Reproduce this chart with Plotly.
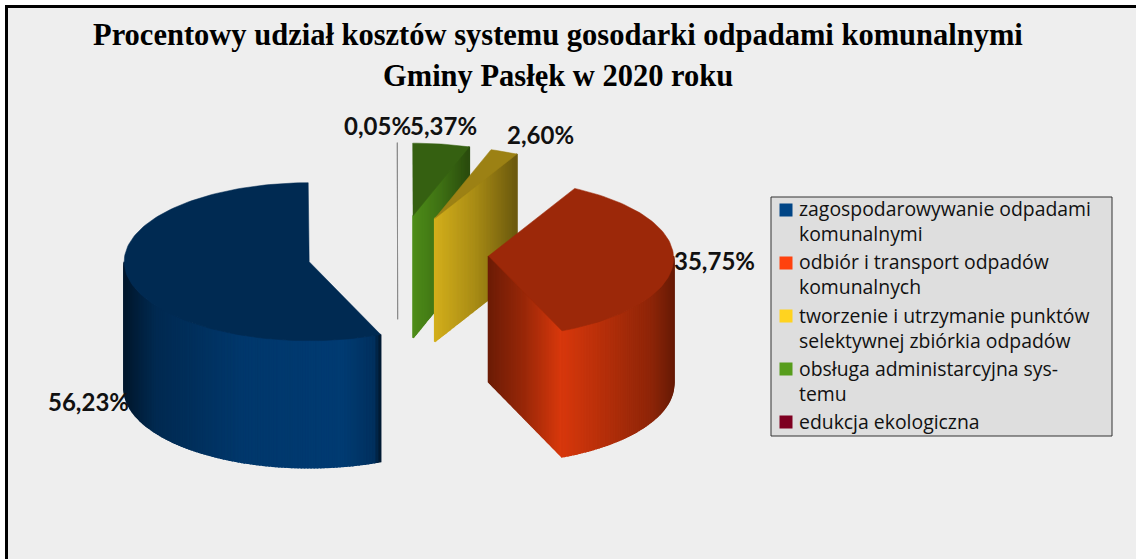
import math
import plotly.graph_objects as go

# ---- data ----
categories = [
    "zagospodarowywanie odpadami<br>komunalnymi",
    "odbiór i transport odpadów<br>komunalnych",
    "tworzenie i utrzymanie punktów<br>selektywnej zbiórkia odpadów",
    "obsługa administarcyjna sys-<br>temu",
    "edukcja ekologiczna",
]
values = [56.23, 35.75, 2.60, 5.37, 0.05]
colors = ["#004586", "#ff420e", "#ffd320", "#579d1c", "#7e0021"]
title_lines = ["Procentowy udział kosztów systemu gosodarki odpadami komunalnymi",
               "Gminy Pasłęk w 2020 roku"]

# ---- projection of the pie ----
W, H = 1136, 559
CX, CY = 398, 254        # pie centre on screen
RX, RY = 185, 79         # ellipse radii
EXPLODE = 0.49
START = -0.3             # degrees clockwise from 12 o'clock; slices run anticlockwise
depths = [127, 126, 123, 122, 104]          # apparent extrusion per slice
perspective = [0.0, 0.03, 0.08, 0.08, 0.08]  # foreshortening of the far rim per slice

label_pos = [(88, 401), (714, 260), (540, 134), (443, 125), (377, 125)]
key_pos = [(786, 210), (786, 263), (786, 316), (786, 369), (786, 422)]
# wall shading stops (fraction left-to-right on screen, brightness)
wall_stops = [
    [(0, .34), (.12, .6), (.45, .8), (.85, .85), (.97, .7), (1, .3)],
    [(0, .84), (.4, .7), (.8, .55), (1, .4)],
    None, None, None,
]
face_stops = [
    None,
    [(0, .42), (.5, .6), (1, .85)],
    [(0, .83), (.5, .66), (1, .42)],
    [(0, .9), (.5, .72), (1, .48)],
    None,
]
TOP_SHADE = 0.61


def rgb(hexcol, k):
    r, g, b = (int(hexcol[i:i + 2], 16) for i in (1, 3, 5))
    return f"rgb({round(r * k)},{round(g * k)},{round(b * k)})"


def shade(stops, t):
    for (t0, v0), (t1, v1) in zip(stops, stops[1:]):
        if t <= t1:
            return v0 + (v1 - v0) * (t - t0) / (t1 - t0)
    return stops[-1][1]


def pt(cx, cy, a, p=0.0):
    rad = math.radians(a)
    s = 1 - p * math.cos(rad)
    return cx + s * RX * math.sin(rad), cy - s * RY * math.cos(rad)


fig = go.Figure()


def poly(pts, color, line=None, width=0.5):
    xs = [q[0] for q in pts] + [pts[0][0]]
    ys = [q[1] for q in pts] + [pts[0][1]]
    fig.add_trace(go.Scatter(x=xs, y=ys, mode="lines", fill="toself", fillcolor=color,
                             line=dict(color=line or color, width=width),
                             hoverinfo="skip", showlegend=False))


# slice angles, derived from the values
total = sum(values)
spans = []
a = START
for v in values:
    b = a - v / total * 360
    spans.append((b, a))
    a = b
spans = [(s + 360, e + 360) if s < 0 else (s, e) for s, e in spans]

order = [4, 3, 2, 0, 1]    # painter's order, back to front
for i in order:
    lo, hi = spans[i]
    col = colors[i]
    p = perspective[i]
    depth = depths[i]
    mid = math.radians((lo + hi) / 2)
    cx = CX + EXPLODE * RX * math.sin(mid)
    cy = CY - EXPLODE * RY * math.cos(mid)

    if i == 4:     # hair-thin slice
        p0 = pt(cx, cy, hi, p)
        poly([p0, (cx, cy), (cx, cy + depth)], "#8a8a8a", "#8a8a8a", 1)
        continue

    # flat cut face at the clockwise end, when it faces the viewer
    if math.cos(math.radians(hi + 90)) < -0.02:
        rim = pt(cx, cy, hi, p)
        n = 60
        for k in range(n):
            t0, t1 = k / n, (k + 1) / n
            x0, y0 = cx + (rim[0] - cx) * t0, cy + (rim[1] - cy) * t0
            x1, y1 = cx + (rim[0] - cx) * t1, cy + (rim[1] - cy) * t1
            c = rgb(col, shade(face_stops[i], (t0 + t1) / 2))
            poly([(x0, y0), (x1, y1), (x1, y1 + depth), (x0, y0 + depth)], c, width=1.6)

    # curved outer wall, front half only
    w0, w1 = max(lo, 90), min(hi, 270)
    if w1 > w0:
        n = max(8, int((w1 - w0) / 1.0))
        xs_all = [pt(cx, cy, w0 + (w1 - w0) * k / n, p)[0] for k in range(n + 1)]
        xmin, xmax = min(xs_all), max(xs_all)
        for k in range(n):
            a0 = w0 + (w1 - w0) * k / n
            a1 = w0 + (w1 - w0) * (k + 1) / n
            p0, p1 = pt(cx, cy, a0, p), pt(cx, cy, a1, p)
            t = ((p0[0] + p1[0]) / 2 - xmin) / (xmax - xmin)
            c = rgb(col, shade(wall_stops[i], t))
            poly([p0, p1, (p1[0], p1[1] + depth), (p0[0], p0[1] + depth)], c, width=1.6)

    # top face
    n = max(4, int((hi - lo) / 1.5))
    arc = [pt(cx, cy, lo + (hi - lo) * k / n, p) for k in range(n + 1)]
    poly([(cx, cy)] + arc, rgb(col, TOP_SHADE))

# legend entries (the coloured keys are aligned with each entry's first line)
for name in categories:
    fig.add_trace(go.Scatter(x=[None], y=[None], mode="markers", name=name,
                             marker=dict(symbol="square", size=13, color="rgba(0,0,0,0)")))
for (kx, ky), col in zip(key_pos, colors):
    fig.add_trace(go.Scatter(x=[kx], y=[ky], mode="markers", showlegend=False, hoverinfo="skip",
                             marker=dict(symbol="square", size=13, color=col)))

# data labels
for v, (lx, ly) in zip(values, label_pos):
    fig.add_annotation(x=lx, y=ly, text=f"{v:.2f}".replace(".", ",") + "%", showarrow=False,
                       font=dict(family="Lato, Open Sans, sans-serif", size=24, color="#111111", weight="bold"),
                       xanchor="center", yanchor="middle")

# title lines
for line, ty in zip(title_lines, (35, 76)):
    fig.add_annotation(x=558, y=ty, text=f"<b>{line}</b>", showarrow=False,
                       font=dict(family="Liberation Serif, serif", size=30.5, color="#000000"),
                       xanchor="center", yanchor="middle")

fig.update_layout(
    width=W, height=H, margin=dict(l=0, r=0, t=0, b=0),
    paper_bgcolor="#ffffff", plot_bgcolor="#ffffff",
    xaxis=dict(visible=False, range=[0, W], fixedrange=True, domain=[0, 1]),
    yaxis=dict(visible=False, range=[H, 0], fixedrange=True, domain=[0, 1]),
    legend=dict(x=759 / W, y=1 - 189 / H, xanchor="left", yanchor="top",
                bgcolor="rgba(0,0,0,0)", borderwidth=0,
                font=dict(family="Open Sans, Lato, sans-serif", size=19.4, color="#111111"),
                itemsizing="constant", traceorder="normal"),
    shapes=[
        dict(type="rect", xref="x", yref="y", x0=8, x1=W, y0=8, y1=H, fillcolor="#eeeeee",
             line_width=0, layer="below"),
        dict(type="rect", xref="x", yref="y", x0=5, x1=W, y0=5, y1=8, fillcolor="#000000",
             line_width=0, layer="below"),
        dict(type="rect", xref="x", yref="y", x0=5, x1=8, y0=5, y1=H, fillcolor="#000000",
             line_width=0, layer="below"),
        dict(type="rect", xref="x", yref="y", x0=771, x1=1112, y0=197, y1=436, fillcolor="#dedede",
             line=dict(color="#333333", width=1), layer="below"),
    ],
)
fig.write_html("out.html", config={"displayModeBar": False},
               post_script="document.body.style.margin='0';document.body.style.overflow='hidden';")
